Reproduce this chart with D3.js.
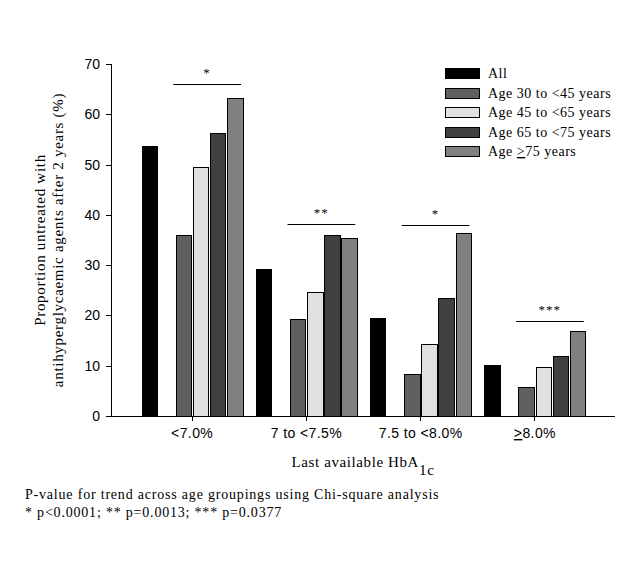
<!DOCTYPE html>
<html><head><meta charset="utf-8">
<script src="https://cdn.jsdelivr.net/npm/d3@7"></script>
<style>body{margin:0;background:#fff}</style>
</head><body>
<script>
const categories = ["<7.0%", "7 to <7.5%", "7.5 to <8.0%", "≥8.0%"];
const seriesNames = ["All", "Age 30 to <45 years", "Age 45 to <65 years", "Age 65 to <75 years", "Age ≥75 years"];
const seriesKeys = ["all", "a30", "a45", "a65", "a75"];
const allValues = [53.6, 29.2, 19.4, 10.1];
const age30to45 = [35.9, 19.2, 8.3, 5.7];
const age45to65 = [49.4, 24.6, 14.3, 9.7];
const age65to75 = [56.2, 35.9, 23.4, 11.9];
const age75plus = [63.2, 35.3, 36.3, 16.8];
const yTicks = [0, 10, 20, 30, 40, 50, 60, 70];
const bracketLevels = [66.0, 38.2, 38.0, 18.9];
const bracketLabels = ["*", "**", "*", "***"];
const seriesColors = ["#000000", "#606060", "#e0e0e0", "#404040", "#808080"];
const yTitleLines = ["Proportion untreated with", "antihyperglycaemic agents after 2 years (%)"];
const xTitle = "Last available HbA";
const xTitleSub = "1c";
const footnotes = ["P-value for trend across age groupings using Chi-square analysis", "* p<0.0001; ** p=0.0013; *** p=0.0377"];

const seriesValues = [allValues, age30to45, age45to65, age65to75, age75plus];
const table = [];
categories.forEach((c, i) => seriesKeys.forEach((k, j) => table.push({cat: c, key: k, idx: j, value: seriesValues[j][i]})));

const W = 643, H = 571;
const serif = "'Liberation Serif','Times New Roman',serif";
const sans = "'Liberation Sans',Arial,sans-serif";

const svg = d3.select("body").append("svg").attr("width", W).attr("height", H);

const y = d3.scaleLinear().domain([0, 70]).range([416, 64]);
const x = d3.scaleBand().domain(categories).range([135, 592]).padding(0);
const slots = ["all", "gap", "a30", "a45", "a65", "a75"];
const xi = d3.scaleBand().domain(slots).range([7, 108]).paddingInner(0.1).paddingOuter(0);

function addText(sel, str) {
  // render "≥" as an underlined ">"
  const parts = str.split("≥");
  parts.forEach((p, i) => {
    if (i > 0) sel.append("tspan").style("text-decoration", "underline").text(">");
    if (p) sel.append("tspan").text(p);
  });
}

// bars
svg.append("g").selectAll("rect").data(table).join("rect")
  .attr("x", d => x(d.cat) + xi(d.key))
  .attr("width", xi.bandwidth())
  .attr("y", d => y(d.value))
  .attr("height", d => y(0) - y(d.value))
  .attr("fill", d => seriesColors[d.idx])
  .attr("stroke", "#000").attr("stroke-width", 1)
  .attr("shape-rendering", "crispEdges");

// y axis
const yAxis = svg.append("g").attr("transform", "translate(111,0)")
  .call(d3.axisLeft(y).tickValues(yTicks).tickSize(5).tickPadding(6));
yAxis.select(".domain").attr("d", `M0,${y(70)}V${y(0)}`);
yAxis.selectAll("text").attr("font-family", sans).attr("font-size", 14).attr("fill", "#000");
yAxis.selectAll("line,path").attr("stroke", "#000").attr("shape-rendering", "crispEdges");

// x axis
const xAxis = svg.append("g").attr("transform", `translate(0,${y(0)})`)
  .call(d3.axisBottom(x).tickSize(5).tickPadding(8).tickFormat(""));
xAxis.select(".domain").attr("d", "M111,0H615");
xAxis.selectAll("line,path").attr("stroke", "#000").attr("shape-rendering", "crispEdges");
xAxis.selectAll(".tick").each(function(d) {
  const t = d3.select(this).select("text").text(null)
    .attr("font-family", sans).attr("font-size", 14).attr("fill", "#000")
    .attr("letter-spacing", 0.4).attr("dy", null).attr("y", 22);
  addText(t, d);
});

// significance brackets
const br = svg.append("g");
categories.forEach((c, i) => {
  const x1 = x(c) + xi("a30") - 3, x2 = x(c) + xi("a75") + xi.bandwidth() - 2;
  const yy = Math.round(y(bracketLevels[i])) + 0.5;
  br.append("line").attr("x1", x1).attr("x2", x2).attr("y1", yy).attr("y2", yy)
    .attr("stroke", "#000").attr("stroke-width", 1);
  br.append("text").attr("x", (x1 + x2) / 2).attr("y", yy - 8)
    .attr("text-anchor", "middle").attr("font-family", serif).attr("font-size", 13)
    .attr("letter-spacing", 1).text(bracketLabels[i]);
});

// legend
const leg = svg.append("g");
seriesNames.forEach((n, j) => {
  const cy = 73 + j * 19.5;
  leg.append("rect").attr("x", 445.5).attr("y", Math.round(cy - 5) + 0.5).attr("width", 34).attr("height", 10)
    .attr("fill", seriesColors[j]).attr("stroke", "#000");
  const t = leg.append("text").attr("x", 488).attr("y", cy + 5)
    .attr("font-family", serif).attr("font-size", 14).attr("letter-spacing", 0.5);
  addText(t, n);
});

// y title
yTitleLines.forEach((l, k) => {
  svg.append("text").attr("transform", `translate(${45 + k * 18},240) rotate(-90)`)
    .attr("text-anchor", "middle").attr("font-family", serif).attr("font-size", 15)
    .attr("letter-spacing", 0.7).text(l);
});

// x title
const xt = svg.append("text").attr("x", 363).attr("y", 467).attr("text-anchor", "middle")
  .attr("font-family", serif).attr("font-size", 15).attr("letter-spacing", 0.6);
xt.append("tspan").text(xTitle);
xt.append("tspan").attr("dy", 8).text(xTitleSub);

// footnotes
footnotes.forEach((f, k) => {
  svg.append("text").attr("x", 25).attr("y", 499 + k * 17.5)
    .attr("font-family", serif).attr("font-size", 14).attr("letter-spacing", 0.8).text(f);
});
</script>
</body></html>
